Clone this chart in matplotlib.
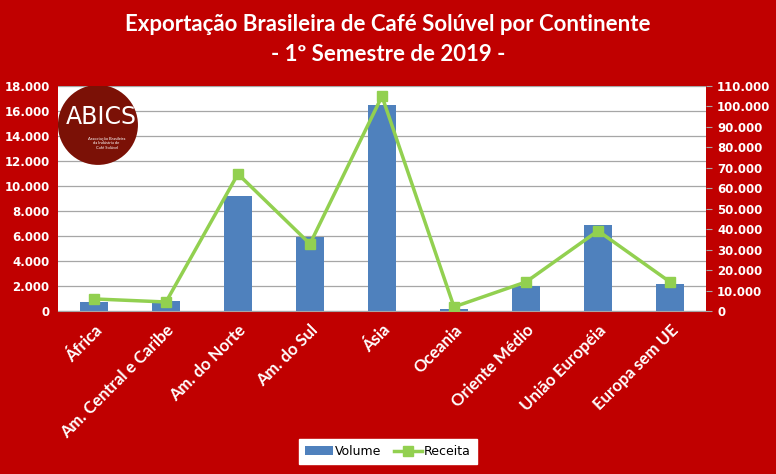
import matplotlib.pyplot as plt
from matplotlib.patches import Ellipse
from matplotlib.ticker import FuncFormatter
import numpy as np

# data
continentes = ['África', 'Am. Central e Caribe', 'Am. do Norte', 'Am. do Sul', 'Ásia',
               'Oceania', 'Oriente Médio', 'União Européia', 'Europa sem UE']
volume = [720, 800, 9200, 5900, 16450, 160, 2000, 6850, 2150]
receita = [5900, 4400, 67000, 32800, 105000, 2000, 14200, 39200, 14200]

vol_ticks = list(range(0, 18001, 2000))
rec_ticks = list(range(0, 110001, 10000))

RED = '#C00000'
BLUE = '#4F81BD'
GREEN = '#92D050'

plt.rcParams['font.family'] = ['Lato', 'DejaVu Sans']

def milhar(v, pos):
    return f'{int(v):,}'.replace(',', '.')

fig = plt.figure(figsize=(7.76, 4.74), dpi=100, facecolor=RED)
ax = fig.add_axes([0.0747, 0.3439, 0.8351, 0.4747])
ax.set_facecolor('white')
x = np.arange(len(continentes))

bars = ax.bar(x, volume, width=0.39, color=BLUE, label='Volume', zorder=2)
ax.set_ylim(0, 18000)
ax.set_yticks(vol_ticks)
ax.yaxis.set_major_formatter(FuncFormatter(milhar))
ax.grid(axis='y', color='#a6a6a6', linewidth=0.9, zorder=0)
ax.set_axisbelow(True)
ax.set_xlim(-0.5, len(continentes) - 0.5)
ax.set_xticks(x)
ax.set_xticklabels(continentes, rotation=45, ha='right', rotation_mode='anchor',
                   color='white', fontsize=12, fontweight='bold')
ax.tick_params(axis='x', length=0, pad=8)
ax.tick_params(axis='y', length=0, labelcolor='white', labelsize=8.5, pad=6)
for lbl in ax.get_yticklabels():
    lbl.set_fontfamily('DejaVu Sans')
    lbl.set_fontweight('bold')
for s in ax.spines.values():
    s.set_visible(False)
ax.spines['bottom'].set_visible(True)
ax.spines['bottom'].set_color('#a6a6a6')

ax2 = ax.twinx()
line, = ax2.plot(x, receita, color=GREEN, linewidth=2.5, marker='s', markersize=7,
                 label='Receita', zorder=3)
ax2.set_ylim(0, 110000)
ax2.set_yticks(rec_ticks)
ax2.yaxis.set_major_formatter(FuncFormatter(milhar))
ax2.tick_params(axis='y', length=4, color='#a6a6a6', labelcolor='white', labelsize=8.5, pad=4)
for lbl in ax2.get_yticklabels():
    lbl.set_fontfamily('DejaVu Sans')
    lbl.set_fontweight('bold')
for s in ax2.spines.values():
    s.set_visible(False)

# logo (circle of ~40 px radius)
logo = Ellipse((0.0617, 0.827), 80 / 648, 80 / 225, transform=ax.transAxes,
               facecolor='#7B1106', edgecolor='none', zorder=4)
ax.add_patch(logo)
ax.text(0.067, 0.86, 'ABICS', transform=ax.transAxes, color='white', fontsize=17,
        ha='center', va='center', zorder=5, family='DejaVu Sans')
ax.text(0.075, 0.745, 'Associação Brasileira\nda Indústria de\nCafé Solúvel', transform=ax.transAxes,
        color='white', fontsize=3, ha='center', va='center', zorder=5, linespacing=1.1)

fig.text(0.5, 0.948, 'Exportação Brasileira de Café Solúvel por Continente',
         color='white', fontsize=16, fontweight='bold', ha='center', va='center')
fig.text(0.5, 0.886, '- 1º Semestre de 2019 -',
         color='white', fontsize=16, fontweight='bold', ha='center', va='center')

leg = fig.legend(handles=[bars, line], labels=['Volume', 'Receita'], loc='center',
                 bbox_to_anchor=(0.5, 0.047), ncol=2, frameon=True, fancybox=False,
                 framealpha=1, edgecolor='white', fontsize=9, handlelength=2.2,
                 handletextpad=0.2, columnspacing=1.0, borderpad=0.5)
for t in leg.get_texts():
    t.set_fontfamily('DejaVu Sans')

fig.savefig('out.png', dpi=100, facecolor=RED)
